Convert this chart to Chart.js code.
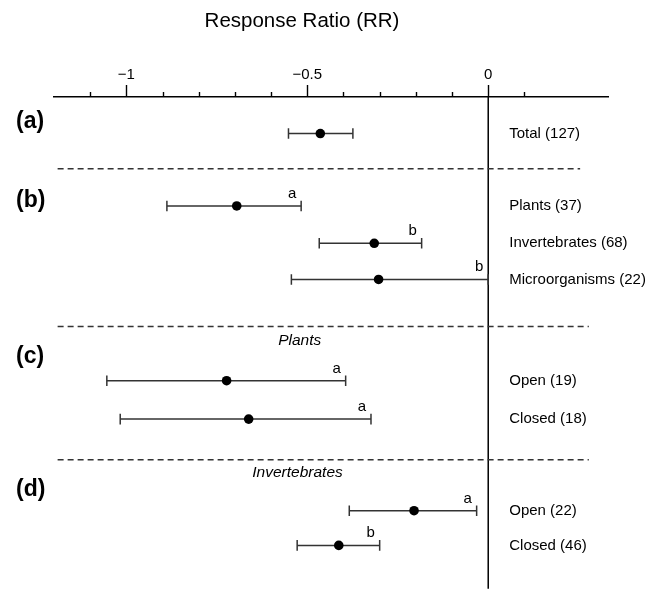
<!DOCTYPE html>
<html>
<head>
<meta charset="utf-8">
<title>Response Ratio (RR)</title>
<script src="https://cdn.jsdelivr.net/npm/chart.js@4.4.1/dist/chart.umd.min.js"></script>
<style>
  html, body { margin: 0; padding: 0; background: #fff; }
  #wrap { width: 660px; height: 591px; }
</style>
</head>
<body>
<div id="wrap"><canvas id="rrChart"></canvas></div>
<script>
// Values
var rowLabels = ['Total (127)', 'Plants (37)', 'Invertebrates (68)', 'Microorganisms (22)',
                 'Open (19)', 'Closed (18)', 'Open (22)', 'Closed (46)'];
var meanRR  = [-0.464, -0.695, -0.315, -0.303, -0.723, -0.662, -0.205, -0.413];
var lowerCI = [-0.552, -0.888, -0.467, -0.544, -1.054, -1.017, -0.384, -0.528];
var upperCI = [-0.374, -0.517, -0.184,  0.000, -0.394, -0.324, -0.032, -0.300];
var sigLetters = ['', 'a', 'b', 'b', 'a', 'a', 'a', 'b'];
var panelLabels = ['(a)', '(b)', '(c)', '(d)'];
var subgroupLabels = ['Plants', 'Invertebrates'];
var tickLabels = { '-1': '\u22121', '-0.5': '\u22120.5', '0': '0' };

// Layout, in row units from the axis downwards
var rowPos = [0.99, 2.95, 3.96, 4.94, 7.68, 8.72, 11.20, 12.14];
var separatorPos = [1.94, 6.21, 9.82];
var separatorEnd = [0.254, 0.278, 0.278];
var panelPos = [0.66, 2.80, 7.03, 10.62];
var subgroupPos = [6.60, 10.17];
var subgroupX = [-0.521, -0.527];

var FONT = "'Liberation Sans', Arial, sans-serif";
var X_MIN = -1.2, X_MAX = 0.331, Y_MAX = 13.19;

var datasets = [];

// means on top
datasets.push({
    type: 'scatter',
    order: 0,
    data: meanRR.map(function (v, i) { return { x: v, y: rowPos[i] }; }),
    pointRadius: 4.8,
    pointBackgroundColor: '#000',
    pointBorderColor: '#000',
    pointBorderWidth: 0
});

// confidence intervals with end caps
for (var i = 0; i < meanRR.length; i++) {
    datasets.push({
        type: 'line',
        order: 1,
        data: [{ x: lowerCI[i], y: rowPos[i] }, { x: upperCI[i], y: rowPos[i] }],
        borderColor: '#333',
        borderWidth: 1.5,
        pointStyle: 'line',
        rotation: 90,
        pointRadius: 5.3,
        pointBorderColor: '#333',
        pointBorderWidth: 1.5
    });
}

// dashed separators between panels
for (var s = 0; s < separatorPos.length; s++) {
    datasets.push({
        type: 'line',
        order: 2,
        data: [{ x: -1.19, y: separatorPos[s] }, { x: separatorEnd[s], y: separatorPos[s] }],
        borderColor: '#333',
        borderWidth: 1.5,
        borderDash: [6, 4],
        pointRadius: 0
    });
}

// zero line, runs to the foot of the figure
datasets.push({
    type: 'line',
    order: 2,
    clip: false,
    data: [{ x: 0, y: 0 }, { x: 0, y: Y_MAX + 0.12 }],
    borderColor: '#000',
    borderWidth: 1.5,
    pointRadius: 0
});

var annotate = {
    id: 'annotate',
    afterDraw: function (chart) {
        var ctx = chart.ctx;
        var xs = chart.scales.x, ys = chart.scales.y;
        var top = chart.chartArea.top;
        ctx.save();

        // tick marks, major every 0.5
        ctx.strokeStyle = '#000';
        ctx.lineWidth = 1.4;
        xs.ticks.forEach(function (t) {
            if (t.value > 0.1 + 1e-9) return;
            var px = Math.round(xs.getPixelForValue(t.value)) + 0.5;
            var major = Math.abs(t.value * 2 - Math.round(t.value * 2)) < 1e-6;
            ctx.beginPath();
            ctx.moveTo(px, top);
            ctx.lineTo(px, top - (major ? 12 : 5));
            ctx.stroke();
        });

        ctx.fillStyle = '#000';

        // title
        ctx.font = '20.5px ' + FONT;
        ctx.textAlign = 'center';
        ctx.textBaseline = 'middle';
        ctx.fillText('Response Ratio (RR)', 302, 21);

        // row labels
        ctx.font = '15px ' + FONT;
        ctx.textAlign = 'left';
        var labelX = xs.getPixelForValue(0) + 21;
        rowLabels.forEach(function (lab, i) {
            ctx.fillText(lab, labelX, ys.getPixelForValue(rowPos[i]));
        });

        // significance letters
        ctx.textAlign = 'center';
        ctx.textBaseline = 'alphabetic';
        sigLetters.forEach(function (l, i) {
            if (!l) return;
            ctx.fillText(l, xs.getPixelForValue(upperCI[i]) - 9, ys.getPixelForValue(rowPos[i]) - 8);
        });

        // subgroup headings
        ctx.font = 'italic 15.5px ' + FONT;
        ctx.textBaseline = 'middle';
        subgroupLabels.forEach(function (l, i) {
            ctx.fillText(l, xs.getPixelForValue(subgroupX[i]), ys.getPixelForValue(subgroupPos[i]));
        });

        // panel letters
        ctx.font = 'bold 23px ' + FONT;
        ctx.textAlign = 'left';
        panelLabels.forEach(function (l, i) {
            ctx.fillText(l, 16, ys.getPixelForValue(panelPos[i]));
        });

        ctx.restore();
    }
};

new Chart(document.getElementById('rrChart'), {
    type: 'scatter',
    data: { datasets: datasets },
    options: {
        responsive: true,
        maintainAspectRatio: false,
        animation: false,
        layout: { padding: { top: 57, left: 54, right: 52, bottom: 0 } },
        plugins: {
            legend: { display: false },
            tooltip: { enabled: false },
            title: { display: false }
        },
        scales: {
            x: {
                type: 'linear',
                position: 'top',
                min: X_MIN,
                max: X_MAX,
                grid: { display: false, drawTicks: false },
                border: { display: true, color: '#000', width: 1.5 },
                afterFit: function (scale) { scale.height = 40; },
                ticks: {
                    stepSize: 0.1,
                    includeBounds: false,
                    autoSkip: false,
                    maxRotation: 0,
                    padding: 13.5,
                    color: '#000',
                    font: { family: FONT, size: 15 },
                    callback: function (v) {
                        var key = String(Math.round(v * 10) / 10);
                        return tickLabels[key] !== undefined ? tickLabels[key] : '';
                    }
                }
            },
            y: {
                type: 'linear',
                display: false,
                reverse: true,
                min: 0,
                max: Y_MAX
            }
        }
    },
    plugins: [annotate]
});
</script>
</body>
</html>
